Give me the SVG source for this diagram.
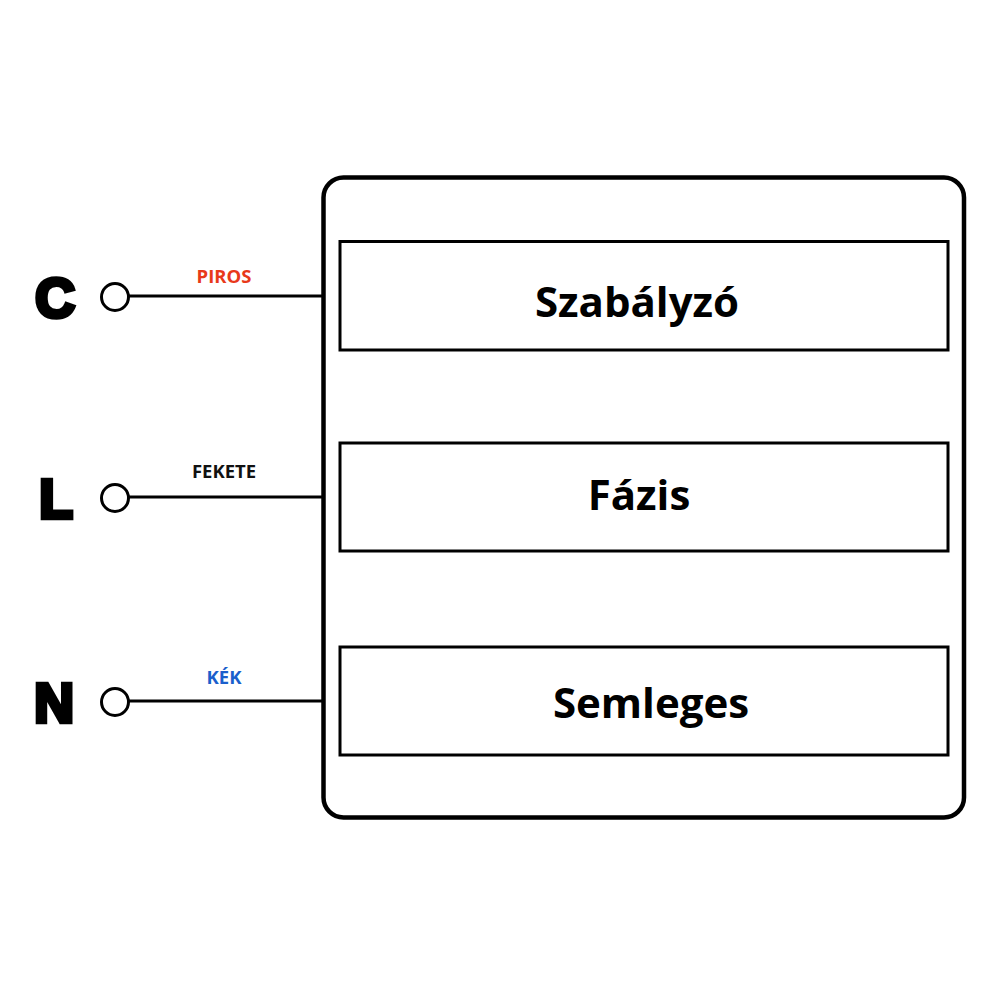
<svg xmlns="http://www.w3.org/2000/svg" width="1000" height="1000" viewBox="0 0 1000 1000">
<style>
.term{font-family:"Liberation Sans",Arial,sans-serif;font-weight:bold;font-size:55px;fill:#000;stroke:#000;stroke-width:4.5px;stroke-linejoin:miter;text-anchor:middle}
.wire{font-family:"Open Sans","Noto Sans",sans-serif;font-weight:bold;font-size:18.5px;text-anchor:middle}
.main{font-family:"Open Sans","Noto Sans",sans-serif;font-weight:bold;font-size:42px;fill:#000;text-anchor:middle}
.box{fill:#fff;stroke:#000;stroke-width:3}
.line{stroke:#000;stroke-width:3;fill:none}
.pin{fill:#fff;stroke:#000;stroke-width:3}
</style>
<rect width="1000" height="1000" fill="#fff"/>
<g id="connectors">
<line class="line" x1="128" y1="296" x2="323" y2="296"/>
<line class="line" x1="128" y1="497" x2="323" y2="497"/>
<line class="line" x1="128" y1="701" x2="323" y2="701"/>
</g>
<g id="device">
<rect x="323.5" y="177.5" width="640.5" height="640" rx="20" ry="20" fill="none" stroke="#000" stroke-width="4.5"/>
</g>
<g id="szabalyzo">
<rect class="box" x="340" y="241.5" width="608" height="108.5"/>
<text class="main" x="637" y="317">Szabályzó</text>
</g>
<g id="fazis">
<rect class="box" x="340" y="443" width="608" height="108"/>
<text class="main" x="639" y="510">Fázis</text>
</g>
<g id="semleges">
<rect class="box" x="340" y="647" width="608" height="108"/>
<text class="main" x="651" y="718">Semleges</text>
</g>
<g id="term-C">
<text class="term" x="55" y="317">C</text>
<circle class="pin" cx="115" cy="297" r="13.5"/>
<text class="wire" x="224" y="283" fill="#e8391a">PIROS</text>
</g>
<g id="term-L">
<text class="term" x="56" y="518">L</text>
<circle class="pin" cx="115" cy="498" r="13.5"/>
<text class="wire" x="224" y="478" fill="#111">FEKETE</text>
</g>
<g id="term-N">
<text class="term" x="54" y="722">N</text>
<circle class="pin" cx="115" cy="702" r="13.5"/>
<text class="wire" x="224" y="684" fill="#1a5fcc">KÉK</text>
</g>
</svg>
